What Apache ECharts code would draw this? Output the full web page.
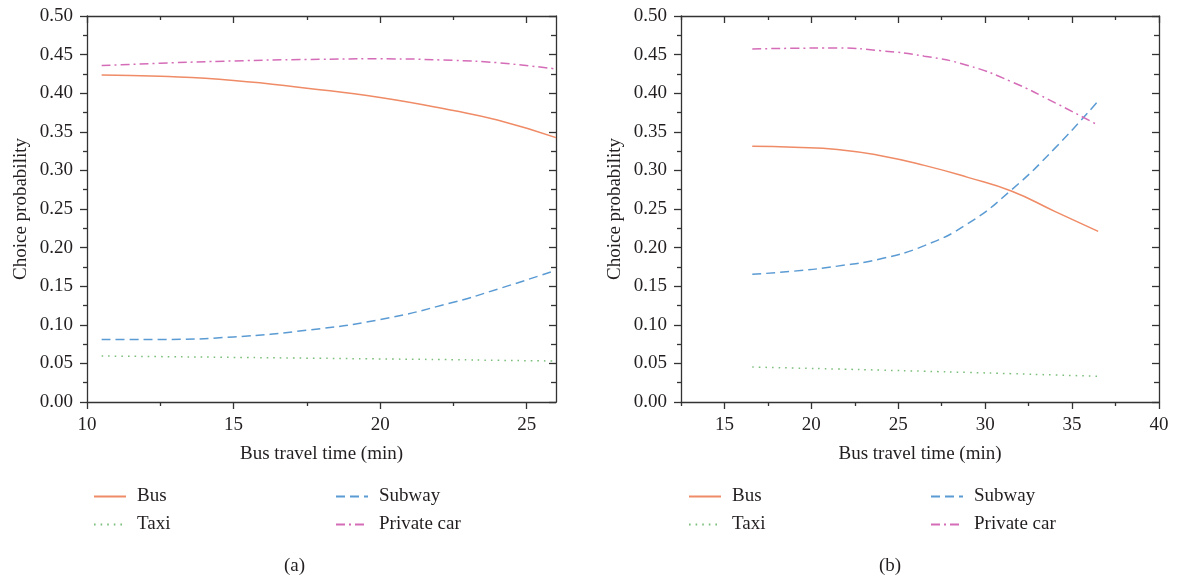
<!DOCTYPE html>
<html lang="en">
<head>
    <meta charset="UTF-8">
    <title>Choice probability</title>
    <script src="https://cdn.jsdelivr.net/npm/echarts@6/dist/echarts.min.js"></script>
</head>
<body style="margin:0;">
 <div id="myChart" style="width: 1179px;height: 580px;"></div>
 <script>
     // panel (a)
     var timeA = [10.5, 12.5, 15, 17.5, 20, 22.5, 24, 26];
     var busA = [0.4236, 0.4218, 0.4165, 0.4065, 0.3945, 0.3775, 0.3652, 0.3425];
     var subwayA = [0.0808, 0.0810, 0.0843, 0.0930, 0.1068, 0.1292, 0.1461, 0.1706];
     var taxiA = [0.0596, 0.0588, 0.0578, 0.0568, 0.0558, 0.0548, 0.0540, 0.0531];
     var carA = [0.4358, 0.4388, 0.4418, 0.4437, 0.4445, 0.4425, 0.4395, 0.4314];

     // panel (b)
     var timeB = [16.6, 19, 21.5, 24, 26.5, 29, 31.5, 34, 36.5];
     var busB = [0.3312, 0.3300, 0.3272, 0.3190, 0.3065, 0.2910, 0.2733, 0.2470, 0.2210];
     var subwayB = [0.1655, 0.1695, 0.1760, 0.1855, 0.2025, 0.2310, 0.2745, 0.3285, 0.3900];
     var taxiB = [0.0453, 0.0440, 0.0427, 0.0413, 0.0398, 0.0383, 0.0367, 0.0350, 0.0333];
     var carB = [0.4572, 0.4582, 0.4585, 0.4550, 0.4480, 0.4360, 0.4150, 0.3878, 0.3585];

     // tick labels
     var majorA = [10, 15, 20, 25];
     var minorA = [12.5, 17.5, 22.5];
     var majorB = [15, 20, 25, 30, 35, 40];
     var minorB = [12.5, 17.5, 22.5, 27.5, 32.5, 37.5];

     var names = ['Bus', 'Subway', 'Taxi', 'Private car'];
     var colors = ['#ef8b66', '#5b9bd3', '#7cbf7c', '#d56cb8'];
     var dashes = ['solid', [9, 5], [1.6, 5], [9, 4, 2, 4]];

     var font = 'Liberation Serif';
     var axisColor = '#333';
     var textColor = '#231f20';

     function pairs(xs, ys) {
         return xs.map(function (x, i) { return [x, ys[i]]; });
     }

     function xAxes(grid, min, max, major, minor) {
         var ls = {color: axisColor, width: 1.3};
         return [
             { // bottom, labels + major ticks
                 gridIndex: grid, type: 'value', position: 'bottom', min: min, max: max,
                 axisLine: {show: true, lineStyle: ls},
                 axisTick: {show: true, length: 7, customValues: major, lineStyle: ls},
                 axisLabel: {customValues: major, margin: 14, color: textColor, fontFamily: font, fontSize: 19},
                 splitLine: {show: false},
                 name: 'Bus travel time (min)', nameLocation: 'middle', nameGap: 43,
                 nameTextStyle: {color: textColor, fontFamily: font, fontSize: 19}
             },
             { // bottom minor ticks
                 gridIndex: grid, type: 'value', position: 'bottom', min: min, max: max,
                 axisLine: {show: false},
                 axisTick: {show: true, length: 4, customValues: minor, lineStyle: ls},
                 axisLabel: {show: false}, splitLine: {show: false}
             },
             { // top mirror
                 gridIndex: grid, type: 'value', position: 'top', min: min, max: max,
                 axisLine: {show: true, lineStyle: ls},
                 axisTick: {show: true, inside: true, length: 7, customValues: major, lineStyle: ls},
                 axisLabel: {show: false}, splitLine: {show: false}
             },
             {
                 gridIndex: grid, type: 'value', position: 'top', min: min, max: max,
                 axisLine: {show: false},
                 axisTick: {show: true, inside: true, length: 4, customValues: minor, lineStyle: ls},
                 axisLabel: {show: false}, splitLine: {show: false}
             }
         ];
     }

     function yAxes(grid) {
         var ls = {color: axisColor, width: 1.3};
         return [
             {
                 gridIndex: grid, type: 'value', position: 'left', min: 0, max: 0.5, interval: 0.05,
                 axisLine: {show: true, lineStyle: ls},
                 axisTick: {show: true, length: 7, lineStyle: ls},
                 minorTick: {show: true, splitNumber: 2, length: 4, lineStyle: ls},
                 axisLabel: {
                     margin: 14, color: textColor, fontFamily: font, fontSize: 19,
                     formatter: function (v) { return v.toFixed(2); }
                 },
                 splitLine: {show: false},
                 name: 'Choice probability', nameLocation: 'middle', nameGap: 56,
                 nameTextStyle: {color: textColor, fontFamily: font, fontSize: 19}
             },
             {
                 gridIndex: grid, type: 'value', position: 'right', min: 0, max: 0.5, interval: 0.05,
                 axisLine: {show: true, lineStyle: ls},
                 axisTick: {show: true, inside: true, length: 7, lineStyle: ls},
                 minorTick: {show: true, splitNumber: 2, length: 5, lineStyle: ls},
                 axisLabel: {show: false}, splitLine: {show: false}
             }
         ];
     }

     function panelSeries(xi, yi, xs, sets) {
         return sets.map(function (ys, k) {
             return {
                 name: names[k], type: 'line', xAxisIndex: xi, yAxisIndex: yi,
                 data: pairs(xs, ys), smooth: true, symbol: 'none', showSymbol: false,
                 color: colors[k],
                 lineStyle: {color: colors[k], width: 1.5, type: dashes[k]}
             };
         });
     }

     function legendCol(left, items) {
         return {
             orient: 'vertical', left: left, top: 482, itemWidth: 32, itemHeight: 14, itemGap: 9,
             data: items, selectedMode: false,
             itemStyle: {opacity: 0},
             textStyle: {color: textColor, fontFamily: font, fontSize: 19, padding: [0, 0, 0, 6]}
         };
     }

     var option = {
         animation: false,
         backgroundColor: '#fff',
         title: [
             {text: '(a)', left: 279, top: 552, textStyle: {color: textColor, fontFamily: font, fontSize: 19, fontWeight: 'normal'}},
             {text: '(b)', left: 874, top: 552, textStyle: {color: textColor, fontFamily: font, fontSize: 19, fontWeight: 'normal'}}
         ],
         grid: [
             {left: 87, right: 623, top: 16, bottom: 178, outerBoundsMode: 'none'},
             {left: 681, right: 20, top: 16, bottom: 178, outerBoundsMode: 'none'}
         ],
         legend: [
             legendCol(88, ['Bus', 'Taxi']),
             legendCol(330, ['Subway', 'Private car']),
             legendCol(683, ['Bus', 'Taxi']),
             legendCol(925, ['Subway', 'Private car'])
         ],
         xAxis: xAxes(0, 10, 26, majorA, minorA).concat(xAxes(1, 12.5, 40, majorB, minorB)),
         yAxis: yAxes(0).concat(yAxes(1)),
         series: panelSeries(0, 0, timeA, [busA, subwayA, taxiA, carA])
             .concat(panelSeries(4, 2, timeB, [busB, subwayB, taxiB, carB]))
     };

     var myChart = echarts.init(document.getElementById('myChart'));
     myChart.setOption(option);
 </script>
</body>
</html>
